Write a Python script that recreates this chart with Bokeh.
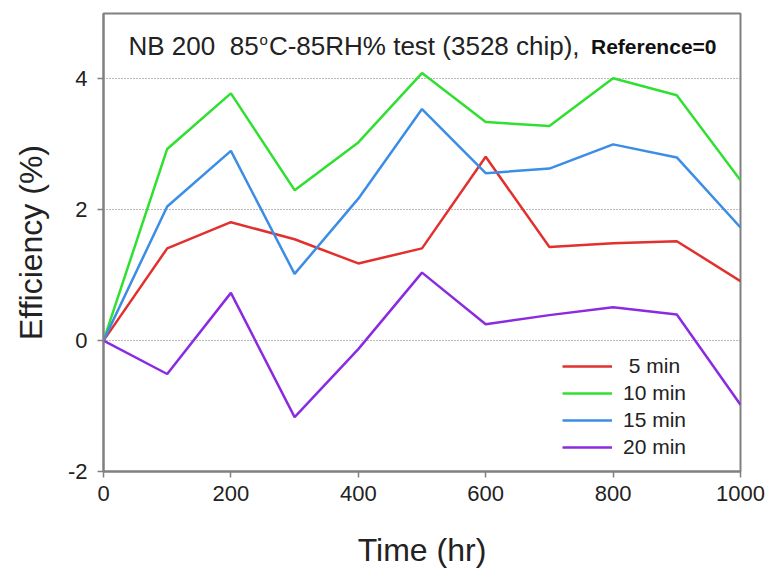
from bokeh.plotting import figure
from bokeh.models import Range1d, Label, Legend, LegendItem, FixedTicker, ColumnDataSource
from bokeh.embed import file_html
from bokeh.resources import INLINE

time_hr = [0, 100, 200, 300, 400, 500, 600, 700, 800, 900, 1000]
eff_5min = [0, 1.41, 1.81, 1.55, 1.18, 1.41, 2.81, 1.43, 1.49, 1.52, 0.91]
eff_10min = [0, 2.93, 3.78, 2.30, 3.03, 4.09, 3.34, 3.28, 4.01, 3.75, 2.45]
eff_15min = [0, 2.05, 2.90, 1.02, 2.17, 3.54, 2.56, 2.63, 3.00, 2.80, 1.73]
eff_20min = [0, -0.51, 0.73, -1.17, -0.13, 1.04, 0.25, 0.39, 0.51, 0.40, -0.98]
series_labels = [" 5 min", "10 min", "15 min", "20 min"]
series_colors = ["#e2302e", "#30e030", "#3b8de6", "#8a2be2"]
x_ticks = [0, 200, 400, 600, 800, 1000]
y_ticks = [-2, 0, 2, 4]

FONT = "Liberation Sans"
AXIS_GRAY = "#808080"
NB = "\u00a0"

p = figure(width=778, height=577, output_backend="svg", toolbar_location=None,
           x_range=Range1d(0, 1000), y_range=Range1d(-2, 5),
           min_border_left=103, min_border_right=38, min_border_top=13, min_border_bottom=106)
p.outline_line_color = AXIS_GRAY
p.outline_line_width = 2
p.background_fill_color = "white"
p.border_fill_color = "white"

p.xgrid.visible = False
p.ygrid.ticker = FixedTicker(ticks=[0, 2, 4])
p.ygrid.grid_line_color = "#777777"
p.ygrid.grid_line_dash = "1 2"
p.ygrid.grid_line_width = 1

for ax in (p.xaxis[0], p.yaxis[0]):
    ax.axis_line_color = AXIS_GRAY
    ax.axis_line_width = 2
    ax.major_tick_line_color = AXIS_GRAY
    ax.major_tick_line_width = 1.5
    ax.major_tick_out = 6
    ax.major_tick_in = 0
    ax.minor_tick_line_color = None
    ax.major_label_text_font = FONT
    ax.major_label_text_font_size = "22px"
    ax.major_label_text_color = "#222222"
    ax.axis_label_text_font = FONT
    ax.axis_label_text_font_size = "32px"
    ax.axis_label_text_font_style = "normal"
    ax.axis_label_text_color = "#222222"

p.xaxis.ticker = FixedTicker(ticks=x_ticks)
p.yaxis.ticker = FixedTicker(ticks=y_ticks)
p.yaxis.major_label_overrides = {t: str(t) for t in y_ticks}
p.xaxis.axis_label = "Time (hr)"
p.yaxis.axis_label = "Efficiency (%)"
p.xaxis.major_label_standoff = 8
p.yaxis.major_label_standoff = 10
p.xaxis.axis_label_standoff = 28
p.yaxis.axis_label_standoff = 16

series = [eff_5min, eff_10min, eff_15min, eff_20min]
items = []
for vals, lab, col in zip(series, series_labels, series_colors):
    src = ColumnDataSource(dict(x=time_hr, y=vals))
    r = p.line("x", "y", source=src, line_color=col, line_width=2.5)
    items.append(LegendItem(label=lab, renderers=[r]))

legend = Legend(items=items, location=(459, 12), border_line_color=None,
                background_fill_alpha=0, padding=0, margin=0,
                glyph_width=50, glyph_height=20, label_height=20, spacing=3,
                label_standoff=11, label_text_font=FONT, label_text_font_size="21px",
                label_text_color="#222222")
p.add_layout(legend)

# title inside the plot area, built from pieces (superscript "o")
def px_to_x(px):
    return (px - 103) / 637 * 1000

TS = 26  # title font size in px
part1 = "NB 200" + NB + NB + "85"
part1_em = (722 + 667 + 278 + 556 * 3 + 278 + 278 + 556 * 2) / 1000
sup_em = 0.556
sup_size = 15
x1 = 128
x_sup = x1 + part1_em * TS + 1
x2 = x_sup + sup_em * sup_size + 1
ty = 4.5
title_color = "#222222"
p.add_layout(Label(x=px_to_x(x1), y=ty, text=part1, text_font=FONT,
                   text_font_size=f"{TS}px", text_baseline="middle",
                   text_align="left", text_color=title_color))
p.add_layout(Label(x=px_to_x(x_sup), y=ty, y_offset=7, text="o", text_font=FONT,
                   text_font_size=f"{sup_size}px", text_baseline="middle",
                   text_align="left", text_color=title_color))
p.add_layout(Label(x=px_to_x(x2), y=ty, text="C-85RH% test (3528 chip),",
                   text_font=FONT, text_font_size=f"{TS}px", text_baseline="middle",
                   text_align="left", text_color=title_color))
p.add_layout(Label(x=px_to_x(716), y=ty, text="Reference=0", text_font=FONT,
                   text_font_size="21px", text_font_style="bold",
                   text_baseline="middle", text_align="right", text_color="#111111"))

open("out.html", "w").write(file_html(p, INLINE))
